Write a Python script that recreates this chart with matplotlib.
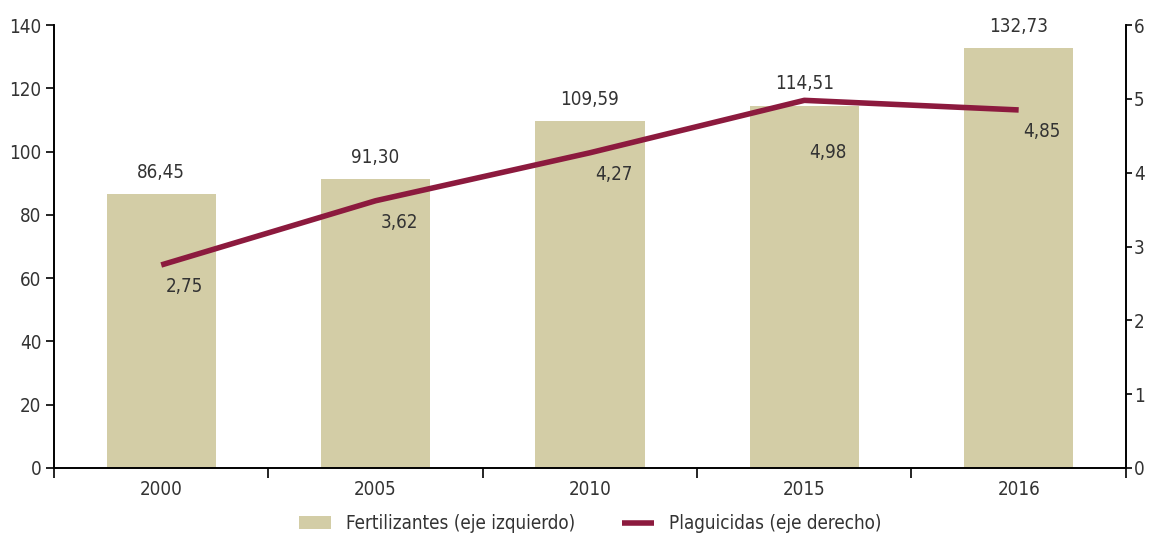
import matplotlib
matplotlib.use("Agg")
import matplotlib.pyplot as plt

years = ["2000", "2005", "2010", "2015", "2016"]
fertilizantes = [86.45, 91.30, 109.59, 114.51, 132.73]
plaguicidas = [2.75, 3.62, 4.27, 4.98, 4.85]

# condensed face of DejaVu, closest to the narrow font in the reference
plt.rcParams["font.family"] = ["DejaVu Sans"]
plt.rcParams["font.stretch"] = "condensed"

bar_color = "#d3cda6"
line_color = "#8c1a3e"
text_color = "#333333"


def fmt(v):
    return f"{v:.2f}".replace(".", ",")


fig = plt.figure(figsize=(11.5, 5.34), dpi=100)
ax = fig.add_axes([0.047, 0.1236, 0.932, 0.8295])
ax2 = ax.twinx()

x = list(range(len(years)))
ax.bar(x, fertilizantes, width=0.51, color=bar_color, zorder=2,
       label="Fertilizantes (eje izquierdo)")
ax.set_xlim(-0.5, 4.5)
ax.set_ylim(0, 140)
ax.set_yticks(range(0, 141, 20))

for xi, v in zip(x, fertilizantes):
    ax.annotate(fmt(v), (xi, v), xytext=(0, 9), textcoords="offset points",
                ha="center", va="bottom", fontsize=13.5, color=text_color)

ax2.plot(x, plaguicidas, color=line_color, linewidth=4, solid_capstyle="butt",
         zorder=3, label="Plaguicidas (eje derecho)")
ax2.set_ylim(0, 6)
ax2.set_yticks(range(0, 7))

# the 2015 label sits lower in the reference
label_drop = [-9, -9, -9, -31, -9]
for xi, v, dy in zip(x, plaguicidas, label_drop):
    ax2.annotate(fmt(v), (xi, v), xytext=(17, dy), textcoords="offset points",
                 ha="center", va="top", fontsize=13.5, color=text_color)

ax.set_xticks(x)
ax.set_xticklabels(years)
ax.tick_params(axis="x", length=0, pad=9, labelsize=13.5, labelcolor=text_color)
ax.set_xticks([i - 0.5 for i in range(len(years) + 1)], minor=True)
ax.tick_params(axis="x", which="minor", length=7, width=1.2, direction="out", color="black")

ax.tick_params(axis="y", length=6, width=1.2, labelsize=13.5, labelcolor=text_color, pad=3)
ax2.tick_params(axis="y", length=4, width=1.2, labelsize=13.5, labelcolor=text_color, pad=2)

for a in (ax, ax2):
    a.spines["top"].set_visible(False)
    for s in ("left", "right", "bottom"):
        a.spines[s].set_linewidth(1.2)
        a.spines[s].set_color("black")

h1, l1 = ax.get_legend_handles_labels()
h2, l2 = ax2.get_legend_handles_labels()
fig.legend(h1 + h2, l1 + l2, loc="lower center", bbox_to_anchor=(0.513, -0.03),
           ncol=2, frameon=False, fontsize=13.5, handlelength=1.7,
           columnspacing=2.5, labelcolor=text_color)

fig.savefig("out.png", dpi=100)
